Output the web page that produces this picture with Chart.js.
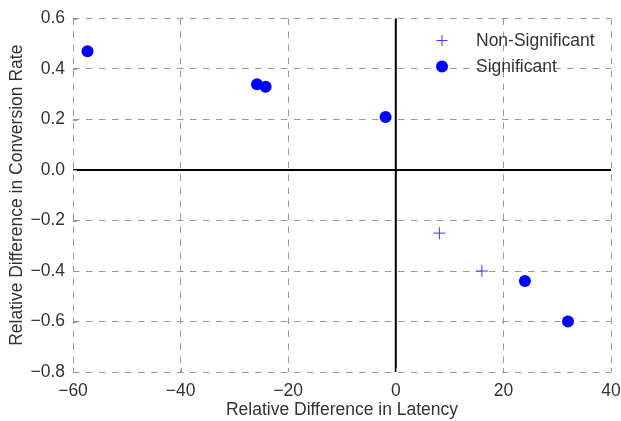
<!DOCTYPE html>
<html>
<head>
<meta charset="utf-8">
<script src="https://cdn.jsdelivr.net/npm/chart.js@4/dist/chart.umd.min.js"></script>
<style>
  html, body { margin: 0; padding: 0; background: #fff; }
  #wrap { width: 621px; height: 421px; }
</style>
</head>
<body>
<div id="wrap"><canvas id="scatter" width="621" height="421"></canvas></div>
<script>
// Data
const sigLatency = [-57.3, -25.8, -24.2, -1.9, 24.0, 32.0];
const sigConversion = [0.47, 0.34, 0.33, 0.21, -0.44, -0.60];
const nonSigLatency = [8.1, 16.0];
const nonSigConversion = [-0.25, -0.40];

const xTicks = [-60, -40, -20, 0, 20, 40];
const yTicks = [0.6, 0.4, 0.2, 0.0, -0.2, -0.4, -0.6, -0.8];

const seriesNames = ['Non-Significant', 'Significant'];

const FONT = '"Liberation Sans", Arial, sans-serif';
const TEXT = '#333333';

const toPoints = (xs, ys) => xs.map((x, i) => ({ x: x, y: ys[i] }));
const minus = s => String(s).replace('-', '\u2212');

// black lines through the origin + small inward ticks
const zeroLines = {
    id: 'zeroLines',
    beforeDatasetsDraw(chart) {
        const { ctx, chartArea, scales } = chart;
        const x0 = scales.x.getPixelForValue(0);
        const y0 = scales.y.getPixelForValue(0);
        ctx.save();
        ctx.strokeStyle = '#000';
        ctx.lineWidth = 2;
        ctx.beginPath();
        ctx.moveTo(x0, chartArea.top);
        ctx.lineTo(x0, chartArea.bottom);
        ctx.moveTo(chartArea.left, y0);
        ctx.lineTo(chartArea.right, y0);
        ctx.stroke();
        ctx.strokeStyle = '#999';
        ctx.lineWidth = 1;
        xTicks.forEach(v => {
            const px = Math.round(scales.x.getPixelForValue(v)) + 0.5;
            ctx.beginPath();
            ctx.moveTo(px, chartArea.bottom);
            ctx.lineTo(px, chartArea.bottom - 4);
            ctx.stroke();
        });
        yTicks.forEach(v => {
            const py = Math.round(scales.y.getPixelForValue(v)) + 0.5;
            ctx.beginPath();
            ctx.moveTo(chartArea.left, py);
            ctx.lineTo(chartArea.left + 4, py);
            ctx.stroke();
        });
        ctx.restore();
    }
};

// legend inside the plot, top right, no frame
const innerLegend = {
    id: 'innerLegend',
    afterDraw(chart) {
        const { ctx, chartArea } = chart;
        const mx = chartArea.right - 169;
        const tx = chartArea.right - 135;
        ctx.save();
        ctx.font = '17.5px ' + FONT;
        ctx.fillStyle = TEXT;
        ctx.textBaseline = 'middle';
        ctx.textAlign = 'left';
        chart.data.datasets.forEach((ds, i) => {
            const y = chartArea.top + 22 + i * 26;
            ctx.save();
            if (ds.pointStyle === 'cross') {
                ctx.strokeStyle = ds.borderColor;
                ctx.lineWidth = 1;
                ctx.beginPath();
                ctx.moveTo(mx - 5.5, y);
                ctx.lineTo(mx + 5.5, y);
                ctx.moveTo(mx, y - 5.5);
                ctx.lineTo(mx, y + 5.5);
                ctx.stroke();
            } else {
                ctx.fillStyle = ds.backgroundColor;
                ctx.beginPath();
                ctx.arc(mx, y, 6, 0, Math.PI * 2);
                ctx.fill();
            }
            ctx.restore();
            ctx.fillText(ds.label, tx, y + 1);
        });
        ctx.restore();
    }
};

const noSidePadding = s => { s.paddingLeft = 0; s.paddingRight = 0; };

new Chart(document.getElementById('scatter'), {
    type: 'scatter',
    data: {
        datasets: [{
            label: seriesNames[0],
            data: toPoints(nonSigLatency, nonSigConversion),
            pointStyle: 'cross',
            pointRadius: 6,
            borderColor: '#3b3bff',
            backgroundColor: '#3b3bff',
            borderWidth: 1
        }, {
            label: seriesNames[1],
            data: toPoints(sigLatency, sigConversion),
            pointStyle: 'circle',
            pointRadius: 6,
            borderWidth: 0,
            borderColor: '#0000ff',
            backgroundColor: '#0000ff'
        }]
    },
    options: {
        responsive: false,
        animation: false,
        layout: { padding: { left: 7, right: 10, top: 17, bottom: 0 } },
        plugins: {
            legend: { display: false },
            tooltip: { enabled: false }
        },
        scales: {
            x: {
                type: 'linear',
                min: xTicks[0],
                max: xTicks[xTicks.length - 1],
                afterBuildTicks: s => { s.ticks = xTicks.map(v => ({ value: v })); },
                afterFit: s => { s.height = 49; noSidePadding(s); },
                border: { display: false, dash: [6.5, 6.5] },
                grid: { color: '#999999', lineWidth: 1, drawTicks: false },
                ticks: {
                    padding: 9,
                    color: TEXT,
                    font: { family: FONT, size: 17.5 },
                    callback: v => minus(v)
                },
                title: {
                    display: true,
                    text: 'Relative Difference in Latency',
                    color: TEXT,
                    font: { family: FONT, size: 17.5 },
                    padding: { top: 0, bottom: 0 }
                }
            },
            y: {
                type: 'linear',
                min: yTicks[yTicks.length - 1],
                max: yTicks[0],
                afterBuildTicks: s => { s.ticks = yTicks.map(v => ({ value: v })); },
                afterFit: s => { s.width = 66; },
                border: { display: false, dash: [6.5, 6.5] },
                grid: { color: '#999999', lineWidth: 1, drawTicks: false },
                ticks: {
                    padding: 8,
                    color: TEXT,
                    font: { family: FONT, size: 17.5 },
                    callback: v => minus(v.toFixed(1))
                },
                title: {
                    display: true,
                    text: 'Relative Difference in Conversion Rate',
                    color: TEXT,
                    font: { family: FONT, size: 17.5 },
                    padding: { top: 0, bottom: 0 }
                }
            }
        }
    },
    plugins: [zeroLines, innerLegend]
});
</script>
</body>
</html>
